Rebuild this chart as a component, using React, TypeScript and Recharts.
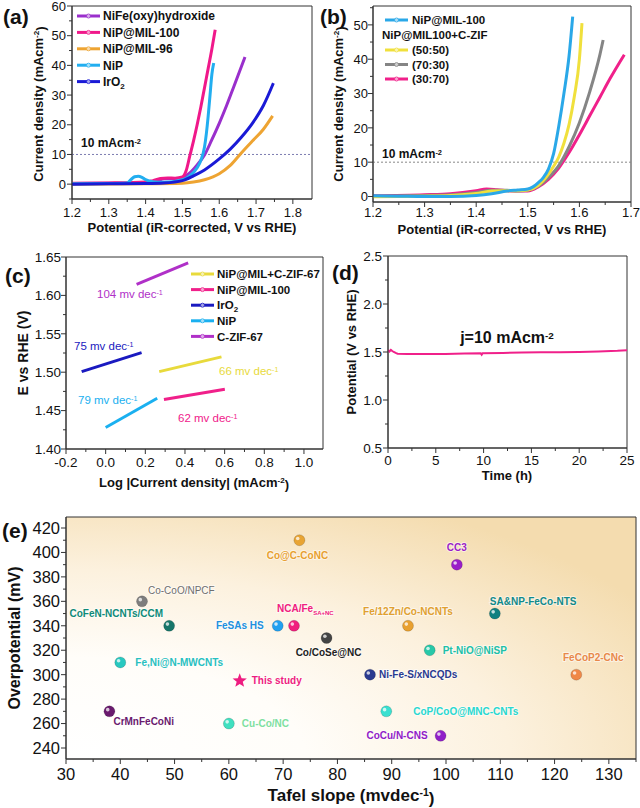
import React from 'react';
import { LineChart, Line, XAxis, YAxis, ReferenceLine, ReferenceArea, ScatterChart, Scatter } from 'recharts';

const FONT = '"Liberation Sans", Arial, Helvetica, sans-serif';

// ---------------- Panel (a) data ----------------
const A_NAMES = ['NiFe(oxy)hydroxide', 'NiP@MIL-100', 'NiP@MIL-96', 'NiP', 'IrO2'];
const A_NIFE_X = [1.2, 1.3, 1.4, 1.43, 1.45, 1.47, 1.49, 1.5, 1.52, 1.54, 1.56, 1.58, 1.6, 1.62, 1.64, 1.67];
const A_NIFE_Y = [0.2, 0.3, 0.5, 1.0, 1.8, 1.9, 1.8, 2.2, 3.8, 6.5, 9.8, 15, 20.5, 26.5, 33, 42.8];
const A_MIL100_X = [1.2, 1.3, 1.4, 1.42, 1.44, 1.46, 1.48, 1.5, 1.51, 1.52, 1.53, 1.54, 1.55, 1.56, 1.57, 1.58, 1.589];
const A_MIL100_Y = [0.3, 0.4, 0.7, 1.2, 1.9, 2.1, 2.0, 2.4, 4.5, 9.5, 14.5, 20, 26, 32.5, 39, 45.5, 52];
const A_MIL96_X = [1.2, 1.4, 1.5, 1.53, 1.56, 1.6, 1.63, 1.66, 1.69, 1.72, 1.745];
const A_MIL96_Y = [0, 0.1, 0.3, 0.7, 1.5, 3.5, 6.3, 10.5, 14.5, 18.5, 23];
const A_NIP_X = [1.2, 1.3, 1.35, 1.36, 1.37, 1.38, 1.39, 1.4, 1.42, 1.45, 1.5, 1.52, 1.54, 1.55, 1.56, 1.565, 1.57, 1.575, 1.58, 1.585];
const A_NIP_Y = [0.1, 0.2, 0.4, 1.5, 2.5, 2.7, 2.3, 1.5, 0.8, 0.6, 1.5, 2.8, 5.5, 8.0, 12.5, 17, 23, 30, 37, 40.8];
const A_IRO2_X = [1.2, 1.3, 1.4, 1.45, 1.5, 1.53, 1.56, 1.6, 1.63, 1.66, 1.69, 1.72, 1.747];
const A_IRO2_Y = [0, 0.1, 0.2, 0.4, 1.2, 2.8, 4.8, 8.5, 11.8, 15.8, 20.5, 26.5, 34];
const A_XTICKS = [1.2, 1.25, 1.3, 1.35, 1.4, 1.45, 1.5, 1.55, 1.6, 1.65, 1.7, 1.75, 1.8];
const A_XMAJOR = [1.2, 1.3, 1.4, 1.5, 1.6, 1.7, 1.8];
const A_YTICKS = [-5, 0, 5, 10, 15, 20, 25, 30, 35, 40, 45, 50, 55, 60];
const A_YMAJOR = [0, 10, 20, 30, 40, 50, 60];

// ---------------- Panel (b) data ----------------
const B_NAMES = ['NiP@MIL-100', '(50:50)', '(70:30)', '(30:70)'];
const B_MIL_X = [1.2, 1.25, 1.3, 1.35, 1.4, 1.43, 1.46, 1.48, 1.5, 1.51, 1.52, 1.53, 1.54, 1.55, 1.56, 1.57, 1.58, 1.587];
const B_MIL_Y = [0.2, 0.1, 0, 0, 0.3, 0.8, 1.6, 1.9, 2.2, 2.8, 4, 5.5, 8, 12.5, 20.5, 30, 41, 52.4];
const B_5050_X = [1.2, 1.3, 1.35, 1.4, 1.43, 1.46, 1.48, 1.5, 1.52, 1.54, 1.55, 1.56, 1.57, 1.58, 1.59, 1.6, 1.605];
const B_5050_Y = [-0.1, 0.1, 0.3, 0.9, 1.6, 1.7, 1.7, 1.9, 3.2, 6.5, 8.8, 11.5, 15.5, 21, 29, 40, 50.5];
const B_7030_X = [1.2, 1.3, 1.35, 1.4, 1.43, 1.46, 1.48, 1.5, 1.52, 1.54, 1.56, 1.58, 1.6, 1.62, 1.64, 1.646];
const B_7030_Y = [0.1, 0.3, 0.5, 1.2, 1.8, 1.8, 1.6, 1.8, 3, 5.5, 9, 14.5, 21.5, 30.5, 41.5, 45.6];
const B_3070_X = [1.2, 1.3, 1.35, 1.4, 1.42, 1.44, 1.47, 1.5, 1.52, 1.54, 1.56, 1.58, 1.6, 1.62, 1.64, 1.66, 1.687];
const B_3070_Y = [0.2, 0.5, 0.8, 1.7, 2.2, 2.0, 1.6, 1.6, 2.8, 5, 8.3, 12.8, 18, 23.5, 29, 34.5, 41.3];
const B_XTICKS = [1.2, 1.25, 1.3, 1.35, 1.4, 1.45, 1.5, 1.55, 1.6, 1.65, 1.7];
const B_XMAJOR = [1.2, 1.3, 1.4, 1.5, 1.6, 1.7];
const B_YTICKS = [0, 5, 10, 15, 20, 25, 30, 35, 40, 45, 50, 55];
const B_YMAJOR = [0, 10, 20, 30, 40, 50];

// ---------------- Panel (c) data ----------------
const C_NAMES = ['NiP@MIL+C-ZIF-67', 'NiP@MIL-100', 'IrO2', 'NiP', 'C-ZIF-67'];
const C_MIX_X = [0.27, 0.584];
const C_MIX_Y = [1.5007, 1.52];
const C_MIL_X = [0.294, 0.601];
const C_MIL_Y = [1.4645, 1.4777];
const C_IRO2_X = [-0.121, 0.181];
const C_IRO2_Y = [1.5007, 1.5254];
const C_NIP_X = [0.0, 0.26];
const C_NIP_Y = [1.428, 1.466];
const C_ZIF_X = [0.156, 0.416];
const C_ZIF_Y = [1.6144, 1.6425];
const C_SLOPES = ['66', '62', '75', '79', '104'];
const C_XTICKS = [-0.2, -0.1, 0, 0.1, 0.2, 0.3, 0.4, 0.5, 0.6, 0.7, 0.8, 0.9, 1.0];
const C_XMAJOR = [-0.2, 0, 0.2, 0.4, 0.6, 0.8, 1.0];
const C_YTICKS = [1.4, 1.425, 1.45, 1.475, 1.5, 1.525, 1.55, 1.575, 1.6, 1.625, 1.65];
const C_YMAJOR = [1.4, 1.45, 1.5, 1.55, 1.6, 1.65];

// ---------------- Panel (d) data ----------------
const D_TIME = [0, 0.15, 0.3, 0.45, 0.6, 0.8, 1, 2, 4, 6, 8, 9.7, 9.8, 9.9, 12, 14, 16, 18, 20, 22, 24, 25];
const D_POT = [1.52, 1.505, 1.522, 1.51, 1.5, 1.49, 1.482, 1.478, 1.478, 1.48, 1.484, 1.486, 1.472, 1.487, 1.49, 1.494, 1.497, 1.498, 1.5, 1.505, 1.512, 1.518];
const D_XTICKS = [0, 2.5, 5, 7.5, 10, 12.5, 15, 17.5, 20, 22.5, 25];
const D_XMAJOR = [0, 5, 10, 15, 20, 25];
const D_YTICKS = [0.5, 0.75, 1.0, 1.25, 1.5, 1.75, 2.0, 2.25, 2.5];
const D_YMAJOR = [0.5, 1.0, 1.5, 2.0, 2.5];

// ---------------- Panel (e) data ----------------
const E_NAMES = ['Co@C-CoNC', 'CC3', 'Co-CoO/NPCF', 'SA&NP-FeCo-NTS', 'CoFeN-NCNTs/CCM', 'FeSAs HS', 'NCA/Fe', 'Fe/12Zn/Co-NCNTs', 'Co/CoSe@NC', 'Pt-NiO@NiSP', 'Fe,Ni@N-MWCNTs', 'FeCoP2-CNc', 'Ni-Fe-S/xNCQDs', 'CrMnFeCoNi', 'CoP/CoO@MNC-CNTs', 'Cu-Co/NC', 'CoCu/N-CNS'];
const E_TAFEL = [73, 102, 44, 109, 49, 69, 72, 93, 78, 97, 40, 124, 86, 38, 89, 60, 99];
const E_OVERPOT = [410, 390, 360, 350, 340, 340, 340, 340, 330, 320, 310, 300, 300, 270, 270, 260, 250];
const E_THIS_NAME = ['This study'];
const E_THIS_TAFEL = [62];
const E_THIS_OVERPOT = [295];
const E_XTICKS = [30, 35, 40, 45, 50, 55, 60, 65, 70, 75, 80, 85, 90, 95, 100, 105, 110, 115, 120, 125, 130, 135];
const E_XMAJOR = [30, 40, 50, 60, 70, 80, 90, 100, 110, 120, 130];
const E_YTICKS = [240, 250, 260, 270, 280, 290, 300, 310, 320, 330, 340, 350, 360, 370, 380, 390, 400, 410, 420];
const E_YMAJOR = [240, 260, 280, 300, 320, 340, 360, 380, 400, 420];

// ---------------- styles / layout ----------------
const A_COLORS = ['#9a2fcc', '#f0188a', '#eea432', '#22aef0', '#1a1ad6'];
const B_COLORS = ['#2aa8e8', '#f0e03c', '#858585', '#f0208a'];
const C_COLORS = ['#e8da3c', '#f0208a', '#1a1ac0', '#1ab0f0', '#b030c8'];
const C_LABEL_POS: [number, number][] = [[219, 375], [178, 422], [74, 350], [78, 404], [97, 298]];
const E_STYLE: Record<string, { dot: string; label: string; dx: number; dy: number; anchor: 'start' | 'middle' | 'end'; bold?: boolean; sub?: string }> = {
  'Co@C-CoNC': { dot: '#e8a434', label: '#e8a030', dx: -2, dy: 15, anchor: 'middle' },
  'CC3': { dot: '#9a1ec8', label: '#9a1ec8', dx: 0, dy: -17, anchor: 'middle' },
  'Co-CoO/NPCF': { dot: '#7d7d7d', label: '#6e6e6e', dx: 6, dy: -11, anchor: 'start', bold: false },
  'SA&NP-FeCo-NTS': { dot: '#118080', label: '#128a8a', dx: -5, dy: -12, anchor: 'start' },
  'CoFeN-NCNTs/CCM': { dot: '#17766a', label: '#0e8a78', dx: -6, dy: -12, anchor: 'end' },
  'FeSAs HS': { dot: '#20a0f0', label: '#2090e0', dx: -14, dy: 0, anchor: 'end' },
  'NCA/Fe': { dot: '#f0207e', label: '#f0207e', dx: -17, dy: -17, anchor: 'start', sub: 'SA+NC' },
  'Fe/12Zn/Co-NCNTs': { dot: '#e8a030', label: '#e0a030', dx: 0, dy: -14, anchor: 'middle' },
  'Co/CoSe@NC': { dot: '#444444', label: '#222222', dx: 2, dy: 14, anchor: 'middle' },
  'Pt-NiO@NiSP': { dot: '#28c8a8', label: '#20c0a8', dx: 13, dy: 0, anchor: 'start' },
  'Fe,Ni@N-MWCNTs': { dot: '#28c8c0', label: '#28c0c0', dx: 15, dy: 0, anchor: 'start' },
  'FeCoP2-CNc': { dot: '#f08848', label: '#e8884a', dx: 17, dy: -17, anchor: 'middle' },
  'Ni-Fe-S/xNCQDs': { dot: '#2a3a90', label: '#2a3a90', dx: 9, dy: 0, anchor: 'start' },
  'CrMnFeCoNi': { dot: '#6a1a6e', label: '#6a1a6e', dx: 4, dy: 10, anchor: 'start' },
  'CoP/CoO@MNC-CNTs': { dot: '#3ae0d0', label: '#28d8d0', dx: 27, dy: 0, anchor: 'start' },
  'Cu-Co/NC': { dot: '#40e0c0', label: '#7ee0a0', dx: 13, dy: 0, anchor: 'start' },
  'CoCu/N-CNS': { dot: '#9020c8', label: '#9020c8', dx: -13, dy: 0, anchor: 'end' },
  'This study': { dot: '#ee1c80', label: '#ee1c80', dx: 12, dy: 0, anchor: 'start' },
};

const pts = (xs: number[], ys: number[]) => xs.map((x, i) => ({ x, y: ys[i] }));
const A_SERIES = [pts(A_NIFE_X, A_NIFE_Y), pts(A_MIL100_X, A_MIL100_Y), pts(A_MIL96_X, A_MIL96_Y), pts(A_NIP_X, A_NIP_Y), pts(A_IRO2_X, A_IRO2_Y)];
const B_SERIES = [pts(B_MIL_X, B_MIL_Y), pts(B_5050_X, B_5050_Y), pts(B_7030_X, B_7030_Y), pts(B_3070_X, B_3070_Y)];
const C_SERIES = [pts(C_MIX_X, C_MIX_Y), pts(C_MIL_X, C_MIL_Y), pts(C_IRO2_X, C_IRO2_Y), pts(C_NIP_X, C_NIP_Y), pts(C_ZIF_X, C_ZIF_Y)];
const D_SERIES = pts(D_TIME, D_POT);
const E_POINTS = E_NAMES.map((name, i) => ({ name, x: E_TAFEL[i], y: E_OVERPOT[i] }));
const E_THIS = E_THIS_NAME.map((name, i) => ({ name, x: E_THIS_TAFEL[i], y: E_THIS_OVERPOT[i] }));

type TickOpts = { side: 'bottom' | 'left'; majors: number[]; fmt: (v: number) => string; fontSize: number; gap: number; majorLen?: number; minorLen?: number };
const makeTick = (o: TickOpts) => (props: any) => {
  const { x, y, payload } = props;
  const v = Number(payload.value);
  const isMajor = o.majors.some((m) => Math.abs(m - v) < 1e-6);
  const len = isMajor ? (o.majorLen ?? 5) : (o.minorLen ?? 3);
  if (o.side === 'bottom') {
    return (
      <g>
        <line x1={x} x2={x} y1={y} y2={y + len} stroke="#333" strokeWidth={1} />
        {isMajor && (
          <text x={x} y={y + o.gap} dy="0.71em" textAnchor="middle" fontSize={o.fontSize} fontFamily={FONT} fill="#111">
            {o.fmt(v)}
          </text>
        )}
      </g>
    );
  }
  return (
    <g>
      <line x1={x} x2={x - len} y1={y} y2={y} stroke="#333" strokeWidth={1} />
      {isMajor && (
        <text x={x - o.gap} y={y} dy="0.36em" textAnchor="end" fontSize={o.fontSize} fontFamily={FONT} fill="#111">
          {o.fmt(v)}
        </text>
      )}
    </g>
  );
};

const axisCommon = { tickLine: false, tickSize: 0, tickMargin: 0, interval: 0 as const, allowDataOverflow: true, axisLine: { stroke: '#333' } };

function Frame({ xd, yd }: { xd: number[]; yd: number[] }) {
  return <ReferenceArea x1={xd[0]} x2={xd[1]} y1={yd[0]} y2={yd[1]} fill="none" stroke="#333" strokeWidth={1} ifOverflow="visible" />;
}

const A_XDOM = [1.2, 1.852];
const A_YDOM = [-5, 60];
function PanelA() {
  return (
    <div style={{ position: 'absolute', left: 0, top: 0 }}>
      <LineChart width={320} height={240} margin={{ top: 6, right: 8, bottom: 0, left: 0 }}>
        <XAxis type="number" dataKey="x" domain={A_XDOM} ticks={A_XTICKS} height={41} {...axisCommon}
          tick={makeTick({ side: 'bottom', majors: A_XMAJOR, fmt: (v) => v.toFixed(1), fontSize: 13, gap: 8.5 })} />
        <YAxis type="number" dataKey="y" domain={A_YDOM} ticks={A_YTICKS} width={72} {...axisCommon}
          tick={makeTick({ side: 'left', majors: A_YMAJOR, fmt: (v) => String(v), fontSize: 13, gap: 6 })} />
        <ReferenceLine y={10} stroke="#7c7cb0" strokeDasharray="2 2" strokeWidth={1} />
        {A_SERIES.map((d, i) => (
          <Line key={i} data={d} dataKey="y" type="monotone" stroke={A_COLORS[i]} strokeWidth={3} dot={false} isAnimationActive={false} />
        ))}
        <Frame xd={A_XDOM} yd={A_YDOM} />
      </LineChart>
    </div>
  );
}

const B_XDOM = [1.2, 1.7];
const B_YDOM = [-1.6, 55.5];
function PanelB() {
  return (
    <div style={{ position: 'absolute', left: 320, top: 0 }}>
      <LineChart width={320} height={240} margin={{ top: 6, right: 9, bottom: 0, left: 0 }}>
        <XAxis type="number" dataKey="x" domain={B_XDOM} ticks={B_XTICKS} height={38} {...axisCommon}
          tick={makeTick({ side: 'bottom', majors: B_XMAJOR, fmt: (v) => v.toFixed(1), fontSize: 13, gap: 6 })} />
        <YAxis type="number" dataKey="y" domain={B_YDOM} ticks={B_YTICKS} width={53} {...axisCommon}
          tick={makeTick({ side: 'left', majors: B_YMAJOR, fmt: (v) => String(v), fontSize: 13, gap: 5 })} />
        <ReferenceLine y={10} stroke="#888" strokeDasharray="2 2" strokeWidth={1} />
        {[3, 2, 1, 0].map((i) => (
          <Line key={i} data={B_SERIES[i]} dataKey="y" type="monotone" stroke={B_COLORS[i]} strokeWidth={3} dot={false} isAnimationActive={false} />
        ))}
        <Frame xd={B_XDOM} yd={B_YDOM} />
      </LineChart>
    </div>
  );
}

const C_XDOM = [-0.2, 1.096];
const C_YDOM = [1.4, 1.65];
function PanelC() {
  return (
    <div style={{ position: 'absolute', left: 0, top: 240 }}>
      <LineChart width={330} height={250} margin={{ top: 17, right: 7, bottom: 0, left: 0 }}>
        <XAxis type="number" dataKey="x" domain={C_XDOM} ticks={C_XTICKS} height={41} {...axisCommon}
          tick={makeTick({ side: 'bottom', majors: C_XMAJOR, fmt: (v) => v.toFixed(1), fontSize: 13.5, gap: 8 })} />
        <YAxis type="number" dataKey="y" domain={C_YDOM} ticks={C_YTICKS} width={66} {...axisCommon}
          tick={makeTick({ side: 'left', majors: C_YMAJOR, fmt: (v) => v.toFixed(2), fontSize: 13.5, gap: 5 })} />
        {C_SERIES.map((d, i) => (
          <Line key={i} data={d} dataKey="y" type="linear" stroke={C_COLORS[i]} strokeWidth={3} dot={false} isAnimationActive={false} />
        ))}
        <Frame xd={C_XDOM} yd={C_YDOM} />
      </LineChart>
    </div>
  );
}

const D_XDOM = [0, 25];
const D_YDOM = [0.5, 2.5];
function PanelD() {
  return (
    <div style={{ position: 'absolute', left: 330, top: 240 }}>
      <LineChart width={310} height={250} margin={{ top: 16, right: 13, bottom: 0, left: 0 }}>
        <XAxis type="number" dataKey="x" domain={D_XDOM} ticks={D_XTICKS} height={42} {...axisCommon}
          tick={makeTick({ side: 'bottom', majors: D_XMAJOR, fmt: (v) => String(v), fontSize: 13.5, gap: 7.5 })} />
        <YAxis type="number" dataKey="y" domain={D_YDOM} ticks={D_YTICKS} width={58} {...axisCommon}
          tick={makeTick({ side: 'left', majors: D_YMAJOR, fmt: (v) => v.toFixed(1), fontSize: 13.5, gap: 6 })} />
        <Line data={D_SERIES} dataKey="y" type="linear" stroke="#f0208a" strokeWidth={2} dot={false} isAnimationActive={false} />
        <Frame xd={D_XDOM} yd={D_YDOM} />
      </LineChart>
    </div>
  );
}

function EText({ cx, cy, name }: { cx: number; cy: number; name: string }) {
  const s = E_STYLE[name];
  if (!s) return null;
  return (
    <text x={cx + s.dx} y={cy + s.dy} dy="0.36em" textAnchor={s.anchor} fontSize={10} fontFamily={FONT}
      fontWeight={s.bold === false ? 400 : 700} fill={s.label} stroke="#ffffff" strokeOpacity={0.55} strokeWidth={2} paintOrder="stroke">
      {name}
      {s.sub && <tspan fontSize={6} dy={3}>{s.sub}</tspan>}
    </text>
  );
}

const sphereShape = (props: any) => {
  const { cx, cy, payload } = props;
  const s = E_STYLE[payload.name];
  return (
    <g>
      <circle cx={cx} cy={cy} r={5.5} fill={s ? s.dot : '#888'} stroke="rgba(0,0,0,0.25)" strokeWidth={0.6} />
      <circle cx={cx - 1.7} cy={cy - 1.7} r={1.8} fill="#fff" opacity={0.75} />
      <EText cx={cx} cy={cy} name={payload.name} />
    </g>
  );
};

const starShape = (props: any) => {
  const { cx, cy, payload } = props;
  const R = 7.5, r = 3.2;
  const p: string[] = [];
  for (let k = 0; k < 10; k++) {
    const a = -Math.PI / 2 + (k * Math.PI) / 5;
    const rr = k % 2 === 0 ? R : r;
    p.push(`${cx + rr * Math.cos(a)},${cy + rr * Math.sin(a)}`);
  }
  return (
    <g>
      <polygon points={p.join(' ')} fill={E_STYLE['This study'].dot} />
      <EText cx={cx} cy={cy} name={payload.name} />
    </g>
  );
};

const E_XDOM = [30, 135];
const E_YDOM = [231, 429];
function PanelE() {
  return (
    <div style={{ position: 'absolute', left: 0, top: 500 }}>
      <ScatterChart width={640} height={308} margin={{ top: 17, right: 4, bottom: 0, left: 0 }}>
        <defs>
          <radialGradient id="eBg" cx="0%" cy="100%" r="120%" fx="0%" fy="100%">
            <stop offset="0%" stopColor="#ffffff" />
            <stop offset="35%" stopColor="#fffdf9" />
            <stop offset="65%" stopColor="#fcf1de" />
            <stop offset="100%" stopColor="#f4dcaf" />
          </radialGradient>
        </defs>
        <ReferenceArea x1={E_XDOM[0]} x2={E_XDOM[1]} y1={E_YDOM[0]} y2={E_YDOM[1]} fill="url(#eBg)" fillOpacity={1} stroke="none" ifOverflow="visible" />
        <XAxis type="number" dataKey="x" domain={E_XDOM} ticks={E_XTICKS} height={49} {...axisCommon}
          tick={makeTick({ side: 'bottom', majors: E_XMAJOR, fmt: (v) => String(v), fontSize: 16.5, gap: 9 })} />
        <YAxis type="number" dataKey="y" domain={E_YDOM} ticks={E_YTICKS} width={66} {...axisCommon}
          tick={makeTick({ side: 'left', majors: E_YMAJOR, fmt: (v) => String(v), fontSize: 16.5, gap: 6 })} />
        <Scatter data={E_POINTS} shape={sphereShape} isAnimationActive={false} />
        <Scatter data={E_THIS} shape={starShape} isAnimationActive={false} />
        <Frame xd={E_XDOM} yd={E_YDOM} />
      </ScatterChart>
    </div>
  );
}

function Sup({ t }: { t: string }) {
  return <tspan dy="-0.45em" fontSize="0.62em">{t}</tspan>;
}

function LegendItem({ x, y, color, len = 23 }: { x: number; y: number; color: string; len?: number }) {
  return (
    <g>
      <line x1={x} x2={x + len} y1={y} y2={y} stroke={color} strokeWidth={3} />
      <circle cx={x + len / 2} cy={y} r={2} fill="#fff" fillOpacity={0.6} stroke={color} strokeWidth={0.8} />
    </g>
  );
}

function Overlay() {
  const bold = { fontFamily: FONT, fontWeight: 700, fill: '#111' } as const;
  return (
    <svg width={640} height={808} style={{ position: 'absolute', left: 0, top: 0, pointerEvents: 'none' }}>
      {/* panel letters */}
      <text x={3} y={24} fontSize={21} {...bold}>(a)</text>
      <text x={320} y={24} fontSize={21} {...bold}>(b)</text>
      <text x={5} y={283} fontSize={21} {...bold}>(c)</text>
      <text x={332} y={280} fontSize={21} {...bold}>(d)</text>
      <text x={2} y={538} fontSize={21} {...bold}>(e)</text>

      {/* (a) titles */}
      <text x={192} y={232} textAnchor="middle" fontSize={13} {...bold}>Potential (iR-corrected, V vs RHE)</text>
      <text transform="translate(43,104) rotate(-90)" textAnchor="middle" fontSize={13} {...bold}>
        Current density (mAcm<Sup t="-2" /><tspan dy="0.45em">)</tspan>
      </text>
      <text x={81} y={147} fontSize={12} {...bold}>10 mAcm<Sup t="-2" /></text>
      {A_NAMES.map((n, i) => (
        <g key={n}>
          <LegendItem x={77} y={16 + i * 16.4} color={A_COLORS[i]} />
          <text x={103} y={16 + i * 16.4} dy="0.36em" fontSize={12} {...bold}>
            {n === 'IrO2' ? <>IrO<tspan fontSize={8} dy={3}>2</tspan></> : n}
          </text>
        </g>
      ))}

      {/* (b) titles */}
      <text x={502} y={234} textAnchor="middle" fontSize={13} {...bold}>Potential (iR-corrected, V vs RHE)</text>
      <text transform="translate(343,104) rotate(-90)" textAnchor="middle" fontSize={13} {...bold}>
        Current density (mAcm<Sup t="-2" /><tspan dy="0.45em">)</tspan>
      </text>
      <text x={382} y={158} fontSize={12} {...bold}>10 mAcm<Sup t="-2" /></text>
      <LegendItem x={385} y={20} color={B_COLORS[0]} />
      <text x={412} y={20} dy="0.36em" fontSize={11.5} {...bold}>{B_NAMES[0]}</text>
      <text x={382} y={35} dy="0.36em" fontSize={11.5} {...bold}>NiP@MIL100+C-ZIF</text>
      {B_NAMES.slice(1).map((n, i) => (
        <g key={n}>
          <LegendItem x={385} y={50 + i * 14.5} color={B_COLORS[i + 1]} />
          <text x={412} y={50 + i * 14.5} dy="0.36em" fontSize={11.5} {...bold}>{n}</text>
        </g>
      ))}

      {/* (c) */}
      <text x={194} y={487} textAnchor="middle" fontSize={13} {...bold}>
        Log |Current density| (mAcm<Sup t="-2" /><tspan dy="0.45em">)</tspan>
      </text>
      <text transform="translate(23,353) rotate(-90)" textAnchor="middle" dy="0.36em" fontSize={14} {...bold}>E vs RHE (V)</text>
      {C_NAMES.map((n, i) => (
        <g key={n}>
          <LegendItem x={191} y={274 + i * 15.6} color={C_COLORS[i]} />
          <text x={217} y={274 + i * 15.6} dy="0.36em" fontSize={11.5} {...bold}>
            {n === 'IrO2' ? <>IrO<tspan fontSize={8} dy={3}>2</tspan></> : n}
          </text>
        </g>
      ))}
      {C_SLOPES.map((s, i) => (
        <text key={s} x={C_LABEL_POS[i][0]} y={C_LABEL_POS[i][1]} fontSize={11.5} fontFamily={FONT} fill={C_COLORS[i]}>
          {s} mv dec<Sup t="-1" />
        </text>
      ))}

      {/* (d) */}
      <text x={507} y={480} textAnchor="middle" fontSize={13} {...bold}>Time (h)</text>
      <text transform="translate(351,352) rotate(-90)" textAnchor="middle" dy="0.36em" fontSize={13} {...bold}>Potential (V vs RHE)</text>
      <text x={507} y={343} textAnchor="middle" fontSize={16} {...bold}>j=10 mAcm<Sup t="-2" /></text>

      {/* (e) */}
      <text x={351} y={801} textAnchor="middle" fontSize={17} {...bold}>
        Tafel slope (mvdec<Sup t="-1" /><tspan dy="0.45em">)</tspan>
      </text>
      <text transform="translate(14,638) rotate(-90)" textAnchor="middle" dy="0.36em" fontSize={16} {...bold}>Overpotential (mV)</text>
    </svg>
  );
}

export default function App() {
  return (
    <div style={{ position: 'absolute', left: 0, top: 0, width: 640, height: 808, background: '#fff', fontFamily: FONT }}>
      <PanelA />
      <PanelB />
      <PanelC />
      <PanelD />
      <PanelE />
      <Overlay />
    </div>
  );
}
